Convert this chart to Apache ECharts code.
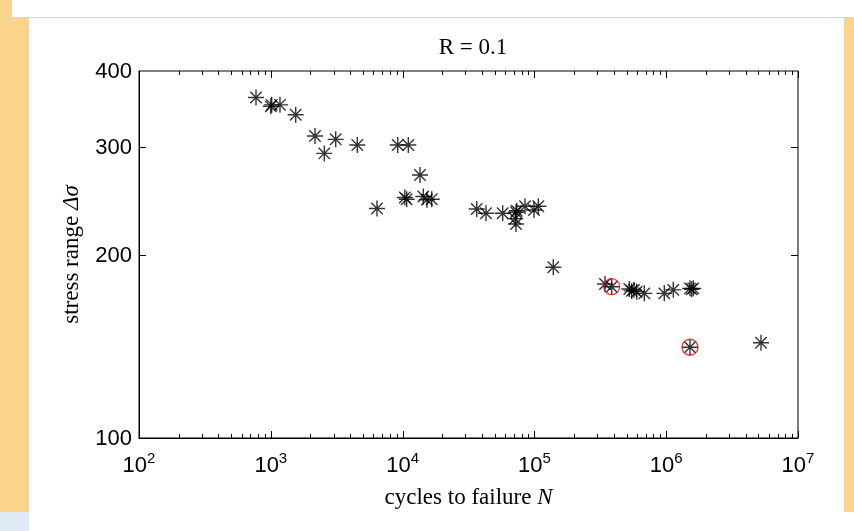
<!DOCTYPE html>
<html>
<head>
<meta charset="utf-8">
<script src="https://cdn.jsdelivr.net/npm/echarts@6/dist/echarts.min.js"></script>
<style>html,body{margin:0;padding:0;background:#fff;}#c{width:854px;height:531px;}</style>
</head>
<body>
<div id="c"></div>
<script>
// ---- data ----
const cycles = [772, 1000, 1016, 1174, 1545, 2165, 2547, 3108, 4532, 9181, 11050, 13550, 6393, 10400, 10740, 14360, 15310, 16630, 36500, 42940, 57470, 72520, 72520, 71500, 73500, 84870, 99300, 107100, 139100, 343400, 385900, 524800, 547100, 569700, 597000, 682300, 967400, 1132000, 1516000, 1561000, 1605000, 1516000, 5240000];
const stress = [362, 350, 352, 352, 339, 313, 293, 309, 302.5, 302.5, 302.5, 270, 238, 248, 246.4, 249, 246, 246.4, 237.5, 233.7, 233.7, 234.6, 224.4, 229, 236, 240, 236.6, 240, 190.6, 178.9, 177.1, 175.6, 174.3, 175, 173.8, 172.7, 172.7, 175, 176, 175.4, 176, 140.9, 143.3];
const runoutCycles = [385900, 1516000];
const runoutStress = [177.1, 140.9];
const xMajorTicks = [1e2, 1e3, 1e4, 1e5, 1e6, 1e7];
const xMinorTicks = [200,300,400,500,600,700,800,900,2000,3000,4000,5000,6000,7000,8000,9000,20000,30000,40000,50000,60000,70000,80000,90000,200000,300000,400000,500000,600000,700000,800000,900000,2000000,3000000,4000000,5000000,6000000,7000000,8000000,9000000];
const yTicks = [200, 300];
const yLabels = [100, 200, 300, 400];
const titleText = 'R = 0.1';

const chart = echarts.init(document.getElementById('c'), null, {renderer: 'canvas'});
const ORANGE = '#FCD38C';
const serif = 'Liberation Serif';
const sans = 'Liberation Sans';

function px(v) { return Math.round(v) + 0.5; }

function xTickRender(len) {
  return function (params, api) {
    const cs = params.coordSys;
    const x = px(api.coord([api.value(0), 100])[0]);
    const yb = cs.y + cs.height, yt = cs.y;
    return {type: 'group', children: [
      {type: 'line', shape: {x1: x, y1: yb, x2: x, y2: yb - len}, style: {stroke: '#000', lineWidth: 1}},
      {type: 'line', shape: {x1: x, y1: yt, x2: x, y2: yt + len}, style: {stroke: '#000', lineWidth: 1}}
    ]};
  };
}
function yTickRender(len) {
  return function (params, api) {
    const cs = params.coordSys;
    const y = px(api.coord([100, api.value(0)])[1]);
    const xl = cs.x, xr = cs.x + cs.width;
    return {type: 'group', children: [
      {type: 'line', shape: {x1: xl, y1: y, x2: xl + len, y2: y}, style: {stroke: '#000', lineWidth: 1}},
      {type: 'line', shape: {x1: xr, y1: y, x2: xr - len, y2: y}, style: {stroke: '#000', lineWidth: 1}}
    ]};
  };
}
function yLabelRender(params, api) {
  const cs = params.coordSys;
  const v = api.value(0);
  const y = api.coord([100, v])[1];
  return {type: 'text', style: {text: String(v), x: cs.x - 7, y: y + 1, align: 'right', verticalAlign: 'middle', font: '22px "Liberation Sans"', fill: '#000'}};
}

const star = 'path://M0,-7L0,7M-7,0L7,0M-5,-5L5,5M-5,5L5,-5';

chart.setOption({
  animation: false,
  backgroundColor: '#fff',
  graphic: [
    {type: 'rect', shape: {x: 0, y: 0, width: 12, height: 512}, style: {fill: ORANGE}, z: -10, silent: true},
    {type: 'rect', shape: {x: 12, y: 17, width: 17, height: 495}, style: {fill: ORANGE}, z: -10, silent: true},
    {type: 'rect', shape: {x: 12, y: 17, width: 842, height: 1}, style: {fill: ORANGE}, z: -10, silent: true},
    {type: 'rect', shape: {x: 844, y: 17, width: 10, height: 495}, style: {fill: ORANGE}, z: -10, silent: true},
    {type: 'rect', shape: {x: 0, y: 512, width: 29, height: 19}, style: {fill: '#DDE9F4'}, z: -10, silent: true}
  ],
  title: {
    text: titleText, left: 468, top: 31, textAlign: 'center',
    textStyle: {fontFamily: serif, fontSize: 23, fontWeight: 'normal', color: '#000'}
  },
  grid: {left: 139, right: 56, top: 71, bottom: 93, show: true, borderColor: '#000', borderWidth: 1, backgroundColor: 'transparent'},
  xAxis: {
    type: 'log', logBase: 10, min: 100, max: 1e7,
    axisLine: {show: true, lineStyle: {color: '#000', width: 1}},
    axisTick: {show: false}, splitLine: {show: false}, minorTick: {show: false},
    axisLabel: {
      margin: 13,
      formatter: function (v) { return '{b|10}{s|' + Math.round(Math.log10(v)) + '}'; },
      rich: {
        b: {fontFamily: sans, fontSize: 22, color: '#000'},
        s: {fontFamily: sans, fontSize: 15, color: '#000', padding: [0, 0, 15, 0]}
      }
    },
    name: 'cycles to failure {i|N}', nameLocation: 'middle', nameGap: 48,
    nameTextStyle: {fontFamily: serif, fontSize: 23, color: '#000', rich: {i: {fontFamily: serif, fontSize: 23, fontStyle: 'italic', color: '#000'}}}
  },
  yAxis: {
    type: 'log', logBase: 10, min: 100, max: 400,
    axisLine: {show: true, lineStyle: {color: '#000', width: 1}},
    axisTick: {show: false}, splitLine: {show: false}, minorTick: {show: false},
    axisLabel: {show: false},
    name: 'stress range {i|Δσ}', nameLocation: 'middle', nameGap: 56, nameRotate: 90,
    nameTextStyle: {fontFamily: serif, fontSize: 23, color: '#000', rich: {i: {fontFamily: serif, fontSize: 23, fontStyle: 'italic', color: '#000'}}}
  },
  series: [
    {type: 'custom', renderItem: xTickRender(7), data: xMajorTicks.map(v => [v]), clip: false, silent: true, z: 5},
    {type: 'custom', renderItem: xTickRender(4), data: xMinorTicks.map(v => [v]), clip: false, silent: true, z: 5},
    {type: 'custom', renderItem: yTickRender(7), data: yTicks.map(v => [v]), clip: false, silent: true, z: 5, encode: {y: 0}},
    {type: 'custom', renderItem: yLabelRender, data: yLabels.map(v => [v]), clip: false, silent: true, z: 5, encode: {y: 0}},
    {
      type: 'scatter', symbol: star, symbolSize: 16,
      itemStyle: {color: 'none', borderColor: '#000', borderWidth: 1.4},
      data: cycles.map((c, i) => [c, stress[i]]), z: 10
    },
    {
      type: 'scatter', symbol: 'circle', symbolSize: 16,
      itemStyle: {color: 'none', borderColor: '#FF0000', borderWidth: 1.3},
      data: runoutCycles.map((c, i) => [c, runoutStress[i]]), z: 11
    }
  ]
});
</script>
</body>
</html>
